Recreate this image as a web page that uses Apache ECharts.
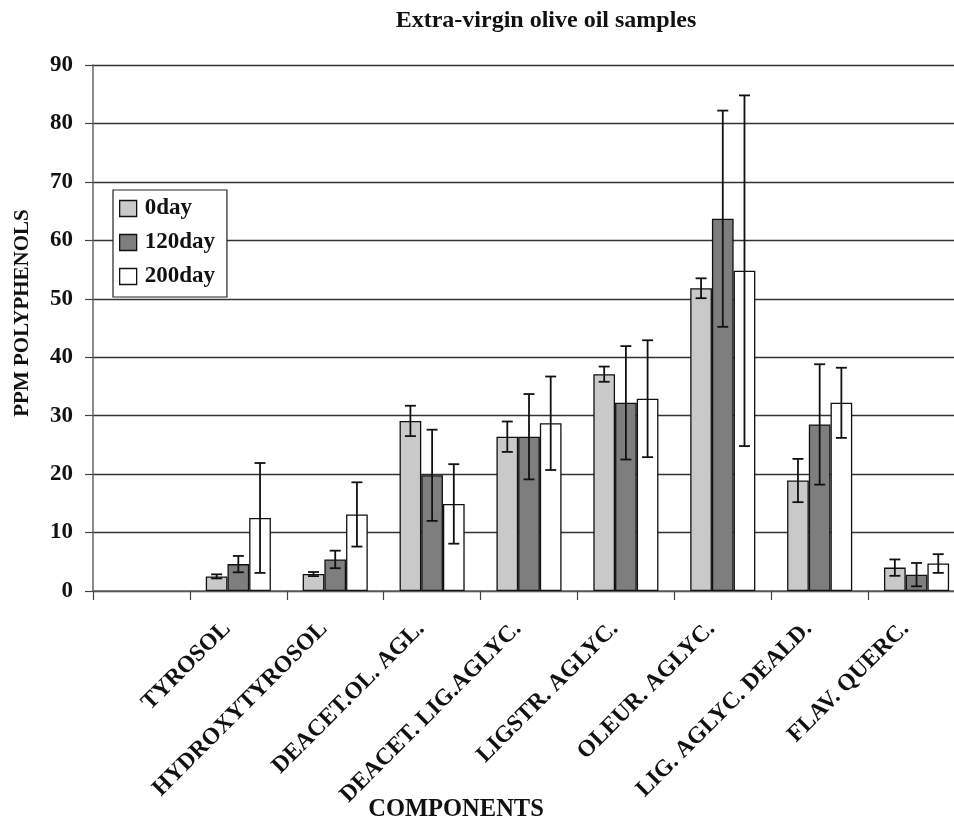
<!DOCTYPE html>
<html>
<head>
<meta charset="utf-8">
<script src="https://cdn.jsdelivr.net/npm/echarts@6/dist/echarts.min.js"></script>
<style>
  html, body { margin: 0; padding: 0; background: #ffffff; overflow: hidden; }
  /* plot area runs slightly past the right edge of the window */
  #chart { width: 970px; height: 820px; }
</style>
</head>
<body>
<div id="chart"></div>
<script>
// Polyphenol components (first slot left empty on the axis)
const categories = ['', 'TYROSOL', 'HYDROXYTYROSOL', 'DEACET.OL. AGL.', 'DEACET. LIG.AGLYC.',
  'LIGSTR. AGLYC.', 'OLEUR. AGLYC.', 'LIG. AGLYC. DEALD.', 'FLAV. QUERC.'];

// Mean ppm and +/- error for each storage time
const day0 = [null, 2.5, 2.9, 29.1, 26.4, 37.1, 51.8, 18.9, 4.0];
const day0Err = [null, 0.35, 0.35, 2.6, 2.6, 1.3, 1.7, 3.7, 1.4];
const day120 = [null, 4.6, 5.4, 19.8, 26.4, 32.2, 63.7, 28.5, 2.8];
const day120Err = [null, 1.4, 1.5, 7.8, 7.3, 9.7, 18.5, 10.3, 2.0];
const day200 = [null, 12.5, 13.1, 14.9, 28.7, 32.9, 54.8, 32.2, 4.7];
const day200Err = [null, 9.4, 5.5, 6.8, 8.0, 10.0, 30.0, 6.0, 1.6];

const yTicks = [0, 10, 20, 30, 40, 50, 60, 70, 80, 90];

const seriesNames = ['0day', '120day', '200day'];
const seriesFill = ['#c9c9c9', '#7e7e7e', '#ffffff'];
const means = [day0, day120, day200];
const errs = [day0Err, day120Err, day200Err];

const FONT = '"Liberation Serif", "Times New Roman", serif';
const BAR_FRAC = 0.224;

const chart = echarts.init(document.getElementById('chart'), null, { renderer: 'canvas' });

function errorData(m, e) {
  const out = [];
  m.forEach((v, i) => {
    if (v !== null && v !== undefined) out.push([i, v - e[i], v + e[i]]);
  });
  return out;
}

function makeErrorRenderer(slot) {
  return function (params, api) {
    const cat = api.value(0);
    const lo = api.coord([cat, api.value(1)]);
    const hi = api.coord([cat, api.value(2)]);
    const band = api.size([1, 0])[0];
    const x = lo[0] + band * BAR_FRAC * (slot - 1);
    const cap = 5.5;
    const st = { stroke: '#111', lineWidth: 1.8 };
    return {
      type: 'group',
      children: [
        { type: 'line', shape: { x1: x, y1: hi[1], x2: x, y2: lo[1] }, style: st },
        { type: 'line', shape: { x1: x - cap, y1: hi[1], x2: x + cap, y2: hi[1] }, style: st },
        { type: 'line', shape: { x1: x - cap, y1: lo[1], x2: x + cap, y2: lo[1] }, style: st }
      ]
    };
  };
}

const series = [];
seriesNames.forEach((name, i) => {
  series.push({
    name: name,
    type: 'bar',
    data: means[i],
    barWidth: (BAR_FRAC * 100) + '%',
    barGap: '0%',
    itemStyle: { color: seriesFill[i], borderColor: '#111', borderWidth: 1.3 },
    z: 2
  });
});
seriesNames.forEach((name, i) => {
  series.push({
    type: 'custom',
    name: name + ' error',
    data: errorData(means[i], errs[i]),
    encode: { x: 0, y: [1, 2] },
    renderItem: makeErrorRenderer(i),
    z: 5,
    silent: true
  });
});

const option = {
  backgroundColor: '#ffffff',
  animation: false,
  grid: { left: 93, top: 65, width: 872, height: 526, containLabel: false },
  legend: {
    data: seriesNames,
    orient: 'vertical',
    left: 113,
    top: 190,
    padding: [7, 12, 9, 6],
    itemGap: 11,
    itemWidth: 17,
    itemHeight: 16,
    icon: 'rect',
    backgroundColor: '#ffffff',
    borderColor: '#222',
    borderWidth: 1.2,
    borderRadius: 0,
    itemStyle: { borderColor: '#111', borderWidth: 1.3 },
    textStyle: { fontFamily: FONT, fontWeight: 'bold', fontSize: 23, color: '#111', lineHeight: 23, padding: [0, 0, 0, 3] }
  },
  xAxis: {
    type: 'category',
    data: categories,
    boundaryGap: true,
    axisLine: { lineStyle: { color: '#666', width: 1.5 } },
    axisTick: { show: true, alignWithLabel: false, length: 9, lineStyle: { color: '#444', width: 1.2 } },
    axisLabel: {
      interval: 0,
      rotate: 45,
      margin: 23,
      padding: [0, 16, 0, 0],
      fontFamily: FONT,
      fontWeight: 'bold',
      fontSize: 23.5,
      color: '#111'
    },
    splitLine: { show: false }
  },
  yAxis: {
    type: 'value',
    min: yTicks[0],
    max: yTicks[yTicks.length - 1],
    interval: 10,
    axisLine: { show: true, lineStyle: { color: '#666', width: 1.5 } },
    axisTick: { show: true, length: 8, lineStyle: { color: '#444', width: 1.2 } },
    axisLabel: {
      margin: 20,
      fontFamily: FONT,
      fontWeight: 'bold',
      fontSize: 23,
      color: '#111'
    },
    splitLine: { show: true, lineStyle: { color: '#333', width: 1.3 } }
  },
  graphic: [
    {
      type: 'text',
      x: 546, y: 21,
      style: {
        text: 'Extra-virgin olive oil samples',
        font: 'bold 24px ' + FONT,
        fill: '#111',
        align: 'center',
        verticalAlign: 'middle'
      }
    },
    {
      type: 'text',
      x: 23, y: 313,
      rotation: Math.PI / 2,
      style: {
        text: 'PPM POLYPHENOLS',
        font: 'bold 21px ' + FONT,
        fill: '#111',
        align: 'center',
        verticalAlign: 'middle'
      }
    },
    {
      type: 'text',
      x: 456, y: 810,
      style: {
        text: 'COMPONENTS',
        font: 'bold 24.5px ' + FONT,
        fill: '#111',
        align: 'center',
        verticalAlign: 'middle'
      }
    }
  ],
  series: series
};

chart.setOption(option);
</script>
</body>
</html>
